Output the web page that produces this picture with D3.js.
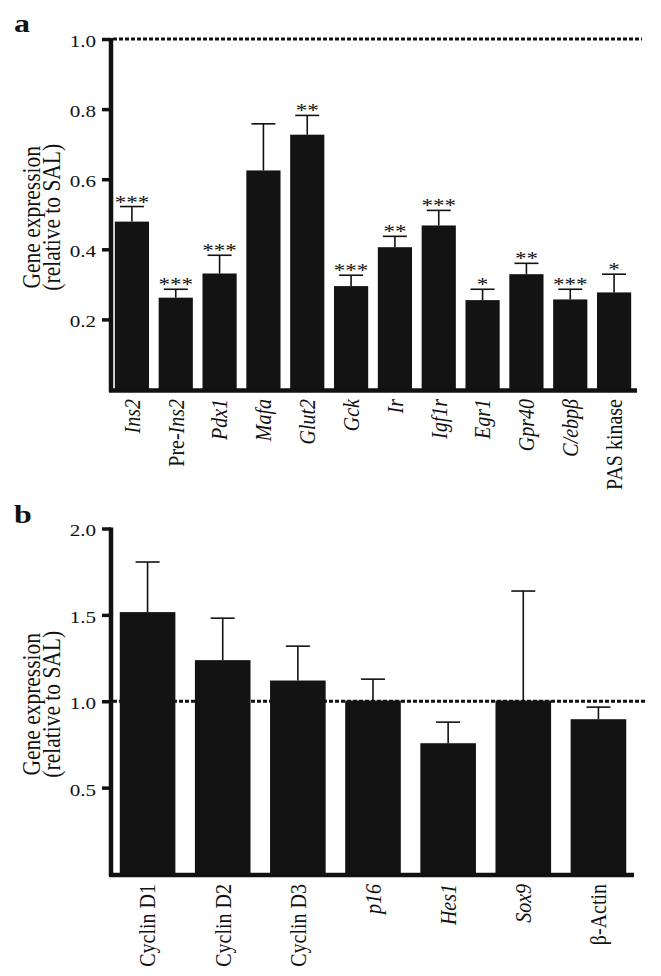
<!DOCTYPE html>
<html><head><meta charset="utf-8">
<script src="https://cdn.jsdelivr.net/npm/d3@7"></script>
<style>
body{margin:0;background:#fff}
svg{display:block}
text{font-family:"Liberation Serif","Times New Roman",serif;fill:#111}
</style>
</head><body>
<svg id="c" width="661" height="976"></svg>
<script>
// ---- Panel a data ----
const genesA = ["Ins2","Pre-Ins2","Pdx1","Mafa","Glut2","Gck","Ir","Igf1r","Egr1","Gpr40","C/ebpβ","PAS kinase"];
const meanA  = [0.479,0.262,0.331,0.625,0.727,0.295,0.406,0.468,0.255,0.329,0.257,0.277];
const semA   = [0.043,0.024,0.052,0.133,0.055,0.031,0.031,0.043,0.031,0.031,0.029,0.052];
const sigA   = ["***","***","***","","**","***","**","***","*","**","***","*"];
const ticksA = [0.2,0.4,0.6,0.8,1.0];
// ---- Panel b data ----
const genesB = ["Cyclin D1","Cyclin D2","Cyclin D3","p16","Hes1","Sox9","β-Actin"];
const meanB  = [1.516,1.238,1.120,1.004,0.757,1.004,0.896];
const semB   = [0.290,0.243,0.199,0.124,0.122,0.634,0.070];
const ticksB = [0.5,1.0,1.5,2.0];
const yTitle = ["Gene expression","(relative to SAL)"];
const refLevel = 1.0;

const romanLabels = ["PAS kinase","Cyclin D1","Cyclin D2","Cyclin D3","β-Actin"];
const SX = 1.28;  // horizontal glyph stretch seen in the reference
const SXR = 1.18; // stretch for rotated text
const svg = d3.select("#c");

function panel(o){
  const g = svg.append("g");
  const x = d3.scaleBand().domain(o.genes).range([110,636]).paddingInner(o.pad).paddingOuter(o.pad/2);
  const y = d3.scaleLinear().domain([0,o.max]).range([o.y0,o.y1]);
  const data = o.genes.map((k,i)=>({k,m:o.mean[i],e:o.sem[i],s:o.sig?o.sig[i]:""}));
  const cx = d => x(d)+x.bandwidth()/2;

  // reference dotted line
  g.append("line").attr("x1",113).attr("x2",o.dotEnd).attr("y1",y(refLevel)).attr("y2",y(refLevel))
    .attr("stroke","#111").attr("stroke-width",3).attr("stroke-dasharray","4,2");

  // bars
  g.selectAll("rect.bar").data(data).join("rect").attr("class","bar")
    .attr("x",d=>x(d.k)).attr("width",x.bandwidth())
    .attr("y",d=>y(d.m)).attr("height",d=>y(0)-y(d.m)).attr("fill","#131313");

  // error bars
  const eb = g.selectAll("g.eb").data(data).join("g").attr("class","eb");
  eb.append("line").attr("x1",d=>cx(d.k)).attr("x2",d=>cx(d.k))
    .attr("y1",d=>y(d.m)).attr("y2",d=>y(d.m+d.e)).attr("stroke","#111").attr("stroke-width",1.6);
  eb.append("line").attr("x1",d=>cx(d.k)-12).attr("x2",d=>cx(d.k)+12)
    .attr("y1",d=>y(d.m+d.e)).attr("y2",d=>y(d.m+d.e)).attr("stroke","#111").attr("stroke-width",1.6);

  // significance
  g.selectAll("text.sig").data(data.filter(d=>d.s)).join("text").attr("class","sig")
    .attr("transform",d=>`translate(${cx(d.k)},${y(d.m+d.e)+2}) scale(${SX},1)`)
    .attr("text-anchor","middle").attr("font-size",18).text(d=>d.s);

  // y axis
  const ya = g.append("g").attr("transform","translate(111,0)")
    .call(d3.axisLeft(y).tickValues(o.ticks).tickFormat(d3.format(".1f")).tickSize(9).tickSizeOuter(0).tickPadding(4));
  ya.select(".domain").attr("stroke","#111").attr("stroke-width",4.5).attr("d",`M0,${o.y0+2}V${y(o.max)-1}`);
  ya.selectAll(".tick line").attr("stroke","#111").attr("stroke-width",3.5);
  ya.selectAll(".tick text").attr("font-size",16.5).attr("font-family","Liberation Serif").attr("fill","#111")
    .attr("x",-15/SX).attr("dy","0.45em").attr("transform",`scale(${SX},1)`);

  // x axis
  const xa = g.append("g").attr("transform",`translate(0,${o.y0+1})`)
    .call(d3.axisBottom(x).tickSize(0).tickFormat(""));
  xa.select(".domain").attr("stroke","#111").attr("stroke-width",4.5).attr("d",`M109,0H${o.xEnd}`);

  // x labels
  const lab = g.selectAll("text.xl").data(o.genes).join("text").attr("class","xl")
    .attr("transform",d=>`translate(${cx(d)},${o.labTop}) scale(${SXR},1) rotate(-90)`)
    .attr("text-anchor","end").attr("dy","0.33em").attr("font-size",20);
  lab.each(function(d){
    const t = d3.select(this);
    if (romanLabels.includes(d)) { t.text(d); }
    else if (d.startsWith("Pre-")) {
      t.append("tspan").text("Pre-");
      t.append("tspan").attr("font-style","italic").text(d.slice(4));
    } else { t.append("tspan").attr("font-style","italic").text(d); }
  });

  // y title
  const cy = (o.y0 + y(o.max))/2 + 3;
  g.append("text").attr("transform",`translate(40,${cy}) scale(${SXR},1) rotate(-90)`).attr("text-anchor","middle")
    .attr("font-size",21.5).text(yTitle[0]);
  g.append("text").attr("transform",`translate(60,${cy}) scale(${SXR},1) rotate(-90)`).attr("text-anchor","middle")
    .attr("font-size",21.5).text(yTitle[1]);

  // panel letter
  g.append("text").attr("transform",`translate(14,${o.letterY}) scale(${SX},1)`)
    .attr("font-size",25).attr("font-weight","bold").text(o.letter);
}

panel({genes:genesA,mean:meanA,sem:semA,sig:sigA,ticks:ticksA,max:1.0,y0:389.5,y1:39,pad:0.22,
       dotEnd:642,xEnd:637,labTop:399,letter:"a",letterY:32});
panel({genes:genesB,mean:meanB,sem:semB,sig:null,ticks:ticksB,max:2.0,y0:874,y1:528.5,pad:0.26,
       dotEnd:647,xEnd:634,labTop:884,letter:"b",letterY:523});
</script>
</body></html>
